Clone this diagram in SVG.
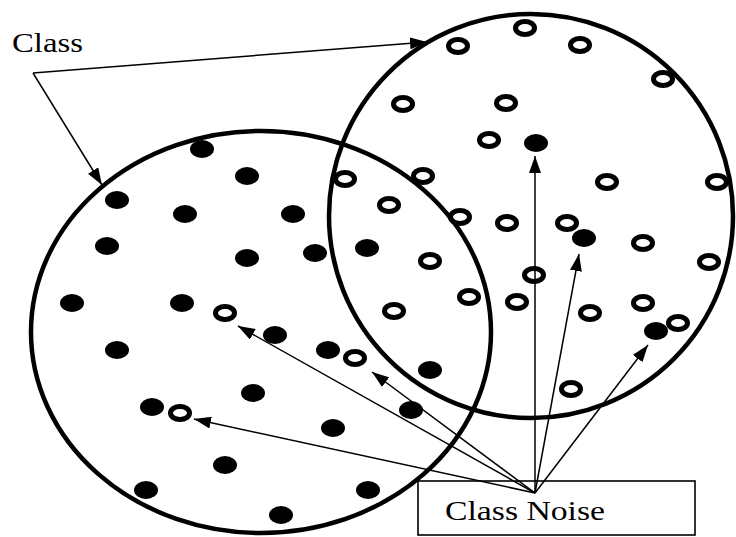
<svg xmlns="http://www.w3.org/2000/svg" width="736" height="537" viewBox="0 0 736 537">
<style>
.cls{fill:none;stroke:#000;stroke-width:4.5}
.f{fill:#000}
.o{fill:none;stroke:#000;stroke-width:5}
.lbl{font-family:"Liberation Serif","Times New Roman",serif;font-size:27px;fill:#000}
.con{fill:none;stroke:#000;stroke-width:1.5}
.box{fill:none;stroke:#000;stroke-width:1.6}
</style>
<defs>
<marker id="ah" markerWidth="17" markerHeight="12" refX="17" refY="6" orient="auto" markerUnits="userSpaceOnUse">
<path d="M0,0 L17,6 L0,12 Z" fill="#000"/>
</marker>
<ellipse id="fd" rx="12" ry="9"/>
<ellipse id="od" rx="9.5" ry="6.5"/>
</defs>
<rect width="736" height="537" fill="#fff"/>
<g id="classA"><ellipse class="cls" cx="261" cy="332" rx="230" ry="201"/></g>
<g id="classB"><ellipse class="cls" cx="531" cy="216" rx="202" ry="202"/></g>
<g id="filled" class="f">
<use href="#fd" x="202" y="149"/>
<use href="#fd" x="247" y="176"/>
<use href="#fd" x="117" y="200"/>
<use href="#fd" x="185" y="214"/>
<use href="#fd" x="293" y="214"/>
<use href="#fd" x="107" y="246"/>
<use href="#fd" x="247" y="258"/>
<use href="#fd" x="315" y="253"/>
<use href="#fd" x="367" y="248"/>
<use href="#fd" x="72" y="303"/>
<use href="#fd" x="182" y="303"/>
<use href="#fd" x="117" y="350"/>
<use href="#fd" x="275" y="335"/>
<use href="#fd" x="328" y="350"/>
<use href="#fd" x="430" y="370"/>
<use href="#fd" x="152" y="407"/>
<use href="#fd" x="253" y="393"/>
<use href="#fd" x="411" y="410"/>
<use href="#fd" x="333" y="428"/>
<use href="#fd" x="225" y="465"/>
<use href="#fd" x="146" y="490"/>
<use href="#fd" x="368" y="490"/>
<use href="#fd" x="281" y="515"/>
<use href="#fd" x="536" y="143"/>
<use href="#fd" x="584" y="238"/>
<use href="#fd" x="656" y="331"/>
</g>
<g id="open" class="o">
<use href="#od" x="525" y="28"/>
<use href="#od" x="458" y="46"/>
<use href="#od" x="580" y="45"/>
<use href="#od" x="663" y="79"/>
<use href="#od" x="403" y="104"/>
<use href="#od" x="506" y="103"/>
<use href="#od" x="489" y="140"/>
<use href="#od" x="345" y="179"/>
<use href="#od" x="423" y="176"/>
<use href="#od" x="607" y="182"/>
<use href="#od" x="717" y="182"/>
<use href="#od" x="389" y="205"/>
<use href="#od" x="460" y="217"/>
<use href="#od" x="507" y="223"/>
<use href="#od" x="567" y="223"/>
<use href="#od" x="643" y="243"/>
<use href="#od" x="430" y="261"/>
<use href="#od" x="709" y="262"/>
<use href="#od" x="534" y="275"/>
<use href="#od" x="469" y="297"/>
<use href="#od" x="517" y="302"/>
<use href="#od" x="394" y="311"/>
<use href="#od" x="590" y="313"/>
<use href="#od" x="643" y="303"/>
<use href="#od" x="678" y="323"/>
<use href="#od" x="571" y="389"/>
<use href="#od" x="225" y="313"/>
<use href="#od" x="355" y="358"/>
<use href="#od" x="180" y="413"/>
</g>
<g id="connectors" class="con">
<path d="M33,73 L427,42" marker-end="url(#ah)"/>
<path d="M33,73 L102,185" marker-end="url(#ah)"/>
<path d="M535,493 L238,326" marker-end="url(#ah)"/>
<path d="M535,493 L372,372" marker-end="url(#ah)"/>
<path d="M535,493 L194,419" marker-end="url(#ah)"/>
<path d="M535,493 L535,156" marker-end="url(#ah)"/>
<path d="M535,493 L579,254" marker-end="url(#ah)"/>
<path d="M535,493 L648,345" marker-end="url(#ah)"/>
</g>
<g id="classLabel"><text class="lbl" x="12" y="52" textLength="71" lengthAdjust="spacingAndGlyphs">Class</text></g>
<g id="noiseBox">
<rect class="box" x="418" y="481" width="277" height="54"/>
<text class="lbl" x="445" y="520" textLength="160" lengthAdjust="spacingAndGlyphs">Class Noise</text>
</g>
</svg>
